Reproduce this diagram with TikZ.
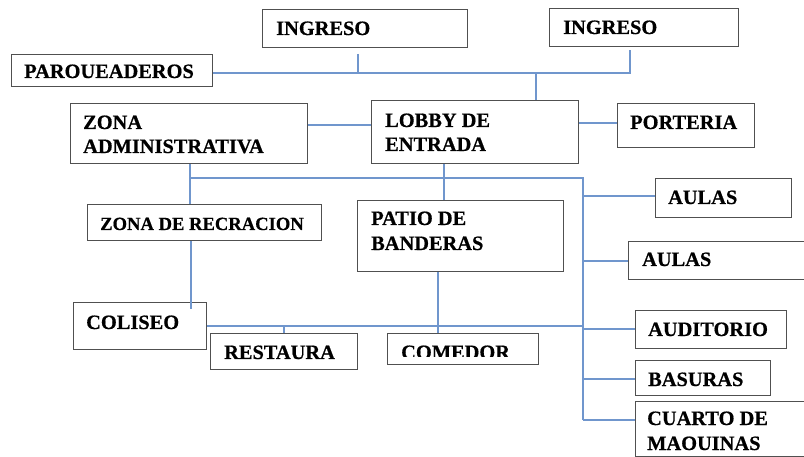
\documentclass[tikz,border=0pt]{standalone}
\usepackage{fontspec}
\setmainfont{Liberation Serif}[BoldFont={Liberation Serif Bold}, BoldFeatures={FakeBold=0.6}]
\definecolor{lineblue}{RGB}{112,150,205}
\definecolor{boxgray}{RGB}{80,80,80}
\tikzset{
  box/.style={draw=boxgray, line width=1.2pt, anchor=north west, inner sep=0pt, fill=none},
  conn/.style={draw=lineblue, line width=1.5pt},
  lbl/.style={anchor=base west, inner sep=0pt, font=\bfseries\fontsize{20.4}{24}\selectfont},
  lblsmall/.style={anchor=base west, inner sep=0pt, font=\bfseries\fontsize{18.6}{22}\selectfont}
}
\begin{document}
\begin{tikzpicture}[x=1pt,y=-1pt]
\useasboundingbox (0,0) rectangle (804,457);
\clip (0,0) rectangle (804,457);
% boxes
\node[box, minimum width=205pt, minimum height=38pt] (ing1) at (262,9) {};
\node[box, minimum width=189pt, minimum height=38pt] (ing2) at (549,8) {};
\node[box, minimum width=201pt, minimum height=32pt] (parq) at (11,54) {};
\node[box, minimum width=237pt, minimum height=60pt] (za) at (70,103) {};
\node[box, minimum width=207pt, minimum height=63pt] (lobby) at (371,100) {};
\node[box, minimum width=137pt, minimum height=44pt] (port) at (617,103) {};
\node[box, minimum width=136pt, minimum height=39pt] (aulas1) at (655,178) {};
\node[box, minimum width=190pt, minimum height=38pt] (aulas2) at (628,241) {};
\node[box, minimum width=151pt, minimum height=38pt] (aud) at (635,310) {};
\node[box, minimum width=135pt, minimum height=35pt] (bas) at (635,360) {};
\node[box, minimum width=185pt, minimum height=55pt] (cuarto) at (635,401) {};
\node[box, minimum width=234pt, minimum height=36pt] (zr) at (87,204) {};
\node[box, minimum width=206pt, minimum height=71pt] (patio) at (357,200) {};
\node[box, minimum width=133pt, minimum height=47pt] (col) at (73,302) {};
\node[box, minimum width=147pt, minimum height=36pt] (rest) at (210,333) {};
\node[box, minimum width=151pt, minimum height=31pt] (com) at (387,333) {};
% texts
\node[lbl] (ing1t) at (276,35) {INGRESO};
\node[lbl] (ing2t) at (563,34) {INGRESO};
\node[lbl] (parqt) at (24,78) {PAROUEADEROS};
\node[lbl] (zat1) at (83,129) {ZONA};
\node[lbl] (zat2) at (83,153) {ADMINISTRATIVA};
\node[lbl] (lobt1) at (385,127) {LOBBY DE};
\node[lbl] (lobt2) at (385,151) {ENTRADA};
\node[lbl] (portt) at (630,129) {PORTERIA};
\node[lbl] (aulas1t) at (668,204) {AULAS};
\node[lbl] (aulas2t) at (642,266) {AULAS};
\node[lbl] (audt) at (648,336) {AUDITORIO};
\node[lbl] (bast) at (648,386) {BASURAS};
\node[lbl] (cuat1) at (647,425) {CUARTO DE};
\node[lbl] (cuat2) at (647,450) {MAOUINAS};
\node[lblsmall] (zrt) at (100,230) {ZONA DE RECRACION};
\node[lbl] (patt1) at (371,225) {PATIO DE};
\node[lbl] (patt2) at (371,250) {BANDERAS};
\node[lbl] (colt) at (86,329) {COLISEO};
\node[lbl] (restt) at (224,359) {RESTAURA};
\begin{scope}
\clip (387,333) rectangle (538,357);
\node[lbl] (comt) at (401,359) {COMEDOR};
\end{scope}
% junction coordinates
\coordinate (t1) at (358,54);
\coordinate (t2) at (630,50);
\coordinate (jA) at (358,73);
\coordinate (jB) at (630,73);
\coordinate (jL) at (536,73);
\coordinate (yZL) at (0,125);
\coordinate (yLP) at (0,123);
\coordinate (jZ) at (190,178);
\coordinate (jR) at (583,178);
\coordinate (xLob) at (444,0);
\coordinate (xZR) at (191,0);
\coordinate (jC) at (583,326);
\coordinate (xRest) at (284,0);
\coordinate (xPat) at (438,0);
\coordinate (jQ) at (583,420);
\coordinate (yQ) at (0,420);
\coordinate (yB) at (0,379);
\coordinate (yA1) at (0,196);
\coordinate (yA2) at (0,261);
\coordinate (yAu) at (0,329);
\coordinate (yColIn) at (0,309);
% connectors
\draw[conn] (parq.east |- jA) -- (jB) -- (t2);
\draw[conn] (t1) -- (jA);
\draw[conn] (jL) -- (lobby.north -| jL);
\draw[conn] (za.east |- yZL) -- (lobby.west |- yZL);
\draw[conn] (lobby.east |- yLP) -- (port.west |- yLP);
\draw[conn] (za.south -| jZ) -- (zr.north -| jZ);
\draw[conn] (jZ) -- (jR) -- (jQ);
\draw[conn] (lobby.south -| xLob) -- (patio.north -| xLob);
\draw[conn] (jR |- yA1) -- (aulas1.west |- yA1);
\draw[conn] (jR |- yA2) -- (aulas2.west |- yA2);
\draw[conn] (jR |- yAu) -- (aud.west |- yAu);
\draw[conn] (jR |- yB) -- (bas.west |- yB);
\draw[conn] (jQ) -- (cuarto.west |- yQ);
\draw[conn] (zr.south -| xZR) -- (xZR |- yColIn);
\draw[conn] (col.east |- jC) -- (jC);
\draw[conn] (rest.north -| xRest) -- (xRest |- jC);
\draw[conn] (patio.south -| xPat) -- (com.north -| xPat);
\end{tikzpicture}
\end{document}
